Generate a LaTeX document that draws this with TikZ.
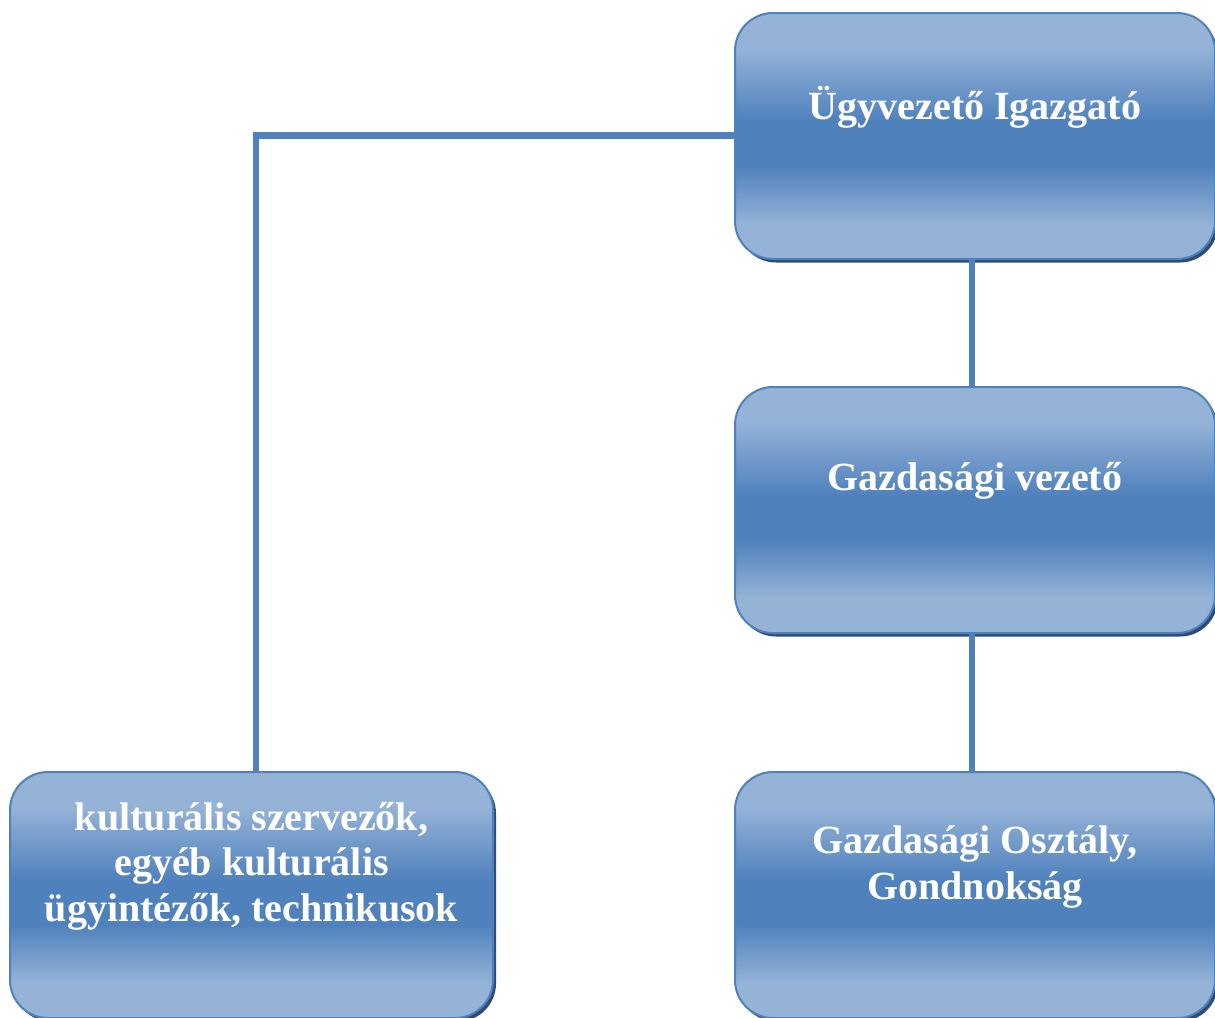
\documentclass[tikz,border=0pt]{standalone}
\usepackage{fontspec}
\setmainfont{Liberation Serif}
\usetikzlibrary{shadows}
\definecolor{boxlight}{HTML}{95B3D7}
\definecolor{boxdark}{HTML}{4F81BD}
\definecolor{boxline}{HTML}{4F81BD}
\definecolor{boxshadow}{HTML}{2E4C77}
\pgfdeclareverticalshading{boxshade}{100bp}{color(0bp)=(boxlight); color(32bp)=(boxlight); color(44bp)=(boxdark); color(53bp)=(boxdark); color(68bp)=(boxlight); color(100bp)=(boxlight)}
\tikzset{
  orgbox/.style={rectangle, rounded corners=38pt, shading=boxshade, draw=boxline, line width=2pt,
     minimum width=480pt, minimum height=246pt, inner sep=0pt, anchor=north west,
     drop shadow={shadow xshift=3pt, shadow yshift=-3.5pt, fill=boxshadow, opacity=1}},
  orgtext/.style={text=white, font=\bfseries\fontsize{40}{45.5}\selectfont, align=center, inner sep=0pt},
  conn/.style={draw=boxline, line width=6.5pt}
}
\begin{document}
\begin{tikzpicture}[x=1pt,y=1pt]
\useasboundingbox (0,0) rectangle (1215,-1017);
\begin{scope}
\clip (0,0) rectangle (1215,-1017);
\node[orgbox] (ugy) at (734,-12) {};
\node[orgbox] (gazd) at (734,-386) {};
\node[orgbox] (oszt) at (734,-771) {};
\node[orgbox, minimum width=483pt] (kult) at (9,-771) {};
\coordinate (corner) at (256,-135.5);
\coordinate (vx) at (972,0);
\node[orgtext] (tugy) at ([yshift=-95pt]ugy.north) {Ügyvezető Igazgató};
\node[orgtext] (tgazd) at ([yshift=-95pt]gazd.north) {Gazdasági vezető};
\node[orgtext] (toszt) at ([yshift=-96pt]oszt.north) {Gazdasági Osztály,\\Gondnokság};
\node[orgtext] (tkult) at ([yshift=-95pt]kult.north) {kulturális szervezők,\\egyéb kulturális\\ügyintézők, technikusok};
\draw[conn] (ugy.west |- corner) -- (corner) -- (corner |- kult.north);
\draw[conn] (ugy.south -| vx) -- (gazd.north -| vx);
\draw[conn] (gazd.south -| vx) -- (oszt.north -| vx);
\end{scope}
\end{tikzpicture}
\end{document}
